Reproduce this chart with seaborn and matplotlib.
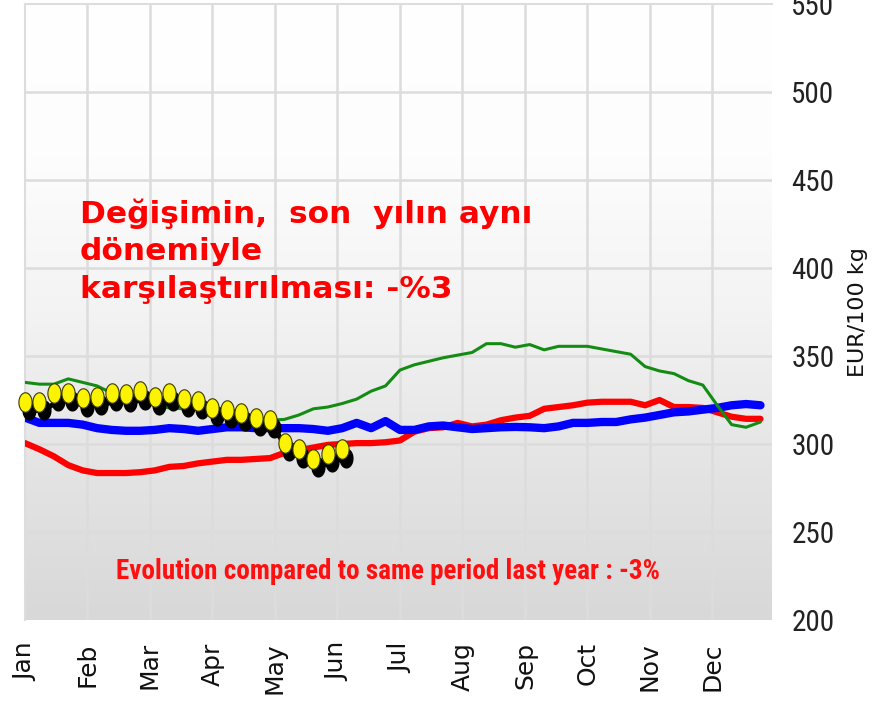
import numpy as np
import pandas as pd
import matplotlib
matplotlib.use("Agg")
import matplotlib.pyplot as plt
from matplotlib import font_manager
from matplotlib.colors import LinearSegmentedColormap
from matplotlib.path import Path
from matplotlib.transforms import offset_copy
import seaborn as sns

# weekly prices, EUR/100 kg
weeks = list(range(1, 53))
green_vals = [335, 334, 334, 337, 335, 333, 329, 327, 324, 322, 320.5, 320, 319.5,
              318, 316, 315, 314, 313.5, 314, 316.5, 320, 321, 323, 325.5, 330, 333,
              342, 345, 347, 349, 350.5, 352, 357, 357, 355, 356.5, 353.5, 355.5,
              355.5, 355.5, 354, 352.5, 351, 344, 341.5, 340, 336, 333.5, 322, 311,
              309.5, 312.5]
red_vals = [300.5, 297, 293, 288, 285, 283.5, 283.5, 283.5, 284, 285, 287, 287.5, 289,
            290, 291, 291, 291.5, 292, 295, 296.5, 298, 299.5, 300, 300.5, 300.5, 301,
            302, 307, 309, 309.5, 312, 310, 311, 313.5, 315, 316, 320, 321, 322, 323.5,
            324, 324, 324, 322, 325, 321, 321, 320.5, 318, 315.5, 314.3, 314.3]
blue_vals = [315, 312, 312, 312, 311, 309, 308, 307.5, 307.5, 308, 309, 308.5, 307.5,
             308.5, 309.5, 309.5, 309, 309, 309, 309, 308.5, 307.5, 309, 312, 309, 313,
             308, 308, 310, 310.5, 309.5, 308.5, 309, 309.5, 309.7, 309.5, 309, 310,
             312, 312, 312.5, 312.5, 314, 315, 316.5, 318, 318.5, 319.5, 320.5, 322,
             322.7, 322]
current_weeks = list(range(1, 24))
current_vals = [323.8, 323.8, 329, 329, 326, 326.7, 329, 328.4, 330, 326.7, 329, 325.6,
                324.4, 320.5, 319.5, 317.6, 314.8, 313.6, 300.6, 297, 291.5, 294.3, 297]

months = ["Jan", "Feb", "Mar", "Apr", "May", "Jun", "Jul", "Aug", "Sep", "Oct", "Nov", "Dec"]
month_pos = [1 + i * 52 / 12 for i in range(12)]
yticks = [200, 250, 300, 350, 400, 450, 500, 550]

# narrow font if there is one
installed = {f.name for f in font_manager.fontManager.ttflist}
narrow = "Liberation Sans"
for cand in ["Liberation Sans Narrow", "Roboto Condensed", "DejaVu Sans Condensed"]:
    if cand in installed:
        narrow = cand
        break
is_narrow = narrow != "Liberation Sans"

sns.set_style("white")
plt.rcParams['font.family'] = ['DejaVu Sans']

fig = plt.figure(figsize=(8.79, 7.07), dpi=100)
ax = fig.add_axes([25 / 879, 87 / 707, 747 / 879, 616 / 707])
xmin, xmax = 1, 52.8
ymin, ymax = 200, 550

# background gradient
cmap = LinearSegmentedColormap.from_list("bg", ["#d8d8d8", "#e4e4e4", "#f3f3f3", "#fdfdfd", "#ffffff"])
grad = np.linspace(0, 1, 256).reshape(-1, 1)
ax.imshow(grad, extent=[xmin, xmax, ymin, ymax], aspect="auto", cmap=cmap,
          origin="lower", zorder=0)

for m in month_pos[1:]:
    ax.axvline(m, color="#dcdcdc", lw=1.8, zorder=1)
for t in yticks[1:-1]:
    ax.axhline(t, color="#dcdcdc", lw=1.8, zorder=1)

df = pd.DataFrame({"week": weeks, "green": green_vals, "red": red_vals, "blue": blue_vals})
sns.lineplot(data=df, x="week", y="red", color="#ff0000", lw=4.5, ax=ax, zorder=3)
sns.lineplot(data=df, x="week", y="blue", color="#0000ff", lw=6, ax=ax, zorder=4)
sns.lineplot(data=df, x="week", y="green", color="#148c14", lw=2.2, ax=ax, zorder=5)

# current year: yellow dots with a black shadow
t = np.linspace(0, 2 * np.pi, 40)
ellipse = Path(np.column_stack([0.68 * np.cos(t), np.sin(t)]))
shadow = offset_copy(ax.transData, fig=fig, x=3, y=-6, units="points")
ax.plot(current_weeks, current_vals, color="black", lw=3.5, marker=ellipse,
        markersize=13.5, markerfacecolor="black", markeredgecolor="black",
        transform=shadow, zorder=6, clip_on=False)
ax.plot(current_weeks, current_vals, linestyle="none", marker=ellipse,
        markersize=14, markerfacecolor="#fbf300", markeredgecolor="#3a3a00",
        markeredgewidth=0.8, zorder=7, clip_on=False)

ax.set_xlim(xmin, xmax)
ax.set_ylim(ymin, ymax)
ax.set_xticks(month_pos)
ax.set_xticklabels(months, rotation=90, fontsize=18, va="top")
ax.tick_params(axis="x", length=0, pad=16, colors="#111111")
ax.yaxis.tick_right()
ax.yaxis.set_label_position("right")
ax.set_yticks(yticks)
ax.set_yticklabels([str(v) for v in yticks], fontsize=21 if is_narrow else 18,
                   family=[narrow, "DejaVu Sans"])
ax.tick_params(axis="y", length=0, pad=14, colors="#222222")
ax.set_ylabel("EUR/100 kg", fontsize=16, labelpad=10, color="#111111")
ax.set_xlabel("")
for s in ax.spines.values():
    s.set_color("#dddddd")
    s.set_linewidth(1.5)
ax.spines["bottom"].set_visible(False)
ax.spines["right"].set_visible(False)

ax.text(0.073, 0.684, "Değişimin,  son  yılın aynı\ndönemiyle\nkarşılaştırılması: -%3",
        transform=ax.transAxes, color="#ff0000", fontsize=22.5, fontweight="bold",
        va="top", ha="left", linespacing=1.36, zorder=8)
ax.text(0.486, 0.078, "Evolution compared to same period last year : -3%",
        transform=ax.transAxes, color="#ff1010", fontsize=19.5 if is_narrow else 15,
        fontweight="bold", family=[narrow, "DejaVu Sans"], va="center", ha="center",
        zorder=8)

fig.savefig("out.png", dpi=100)
